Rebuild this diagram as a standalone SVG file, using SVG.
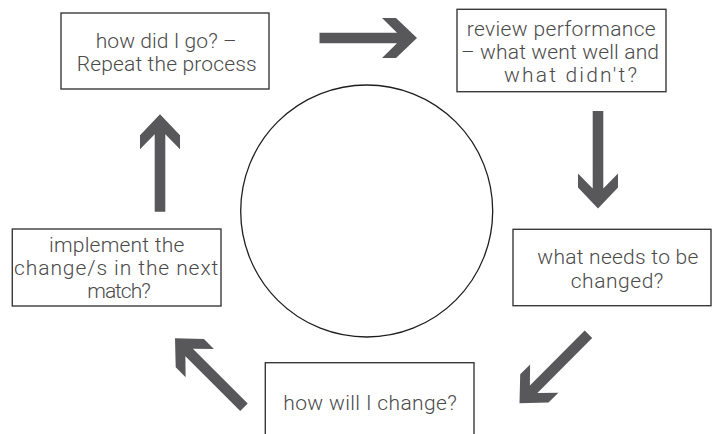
<svg xmlns="http://www.w3.org/2000/svg" xmlns:xlink="http://www.w3.org/1999/xlink" width="712" height="434" viewBox="0 0 712 434">
<style>
.box{fill:#ffffff;stroke:#3a3a3a;stroke-width:1.4}
.lbl{font-family:Roboto,"Liberation Sans",Arial,sans-serif;font-weight:300;font-size:21px;fill:#4a4a4a}
.arr{fill:#58585a}
.ring{fill:none;stroke:#1e1e1e;stroke-width:1.3}
</style>
<defs>
<path id="arrow" class="arr" d="M0,0 L-21,-20 L-35,-20 L-20,-5.3 L-97.5,-5.3 L-97.5,5.3 L-20,5.3 L-35,20 L-21,20 Z"/>
</defs>
<rect width="712" height="434" fill="#ffffff"/>
<circle class="ring" cx="366.7" cy="211" r="126"/>
<g id="connectors">
<use xlink:href="#arrow" href="#arrow" transform="translate(417,38)"/>
<use xlink:href="#arrow" href="#arrow" transform="translate(598,208.5) rotate(90)"/>
<use xlink:href="#arrow" href="#arrow" transform="translate(519.5,403.3) rotate(135)"/>
<use xlink:href="#arrow" href="#arrow" transform="translate(175,338.3) rotate(225)"/>
<use xlink:href="#arrow" href="#arrow" transform="translate(160,114.3) rotate(270)"/>
</g>
<g id="node-how-did-i-go">
<rect class="box" x="61" y="13" width="208" height="76"/>
<text class="lbl" x="95.7" y="48" textLength="141" lengthAdjust="spacing">how did I go? –</text>
<text class="lbl" x="76.7" y="71" textLength="180" lengthAdjust="spacing">Repeat the process</text>
</g>
<g id="node-review">
<rect class="box" x="457" y="9.3" width="209" height="82.4"/>
<text class="lbl" x="466.7" y="36" textLength="189" lengthAdjust="spacing">review performance</text>
<text class="lbl" x="461" y="59.3" textLength="198" lengthAdjust="spacing">– what went well and</text>
<text class="lbl" x="504" y="81.7" textLength="133" lengthAdjust="spacing">what didn't?</text>
</g>
<g id="node-what-needs">
<rect class="box" x="513" y="229.3" width="198" height="76.4"/>
<text class="lbl" x="537.3" y="264.3" textLength="161" lengthAdjust="spacing">what needs to be</text>
<text class="lbl" x="570.7" y="288.3" textLength="92.7" lengthAdjust="spacing">changed?</text>
</g>
<g id="node-how-will">
<rect class="box" x="265.3" y="362.7" width="208.7" height="90"/>
<text class="lbl" x="283.3" y="410" textLength="173.4" lengthAdjust="spacing">how will I change?</text>
</g>
<g id="node-implement">
<rect class="box" x="12.3" y="229" width="208.7" height="77"/>
<text class="lbl" x="49" y="251.7" textLength="135.3" lengthAdjust="spacing">implement the</text>
<text class="lbl" x="14" y="275" textLength="204.3" lengthAdjust="spacing">change/s in the next</text>
<text class="lbl" x="87.3" y="298.3" textLength="63.4" lengthAdjust="spacing">match?</text>
</g>
</svg>
